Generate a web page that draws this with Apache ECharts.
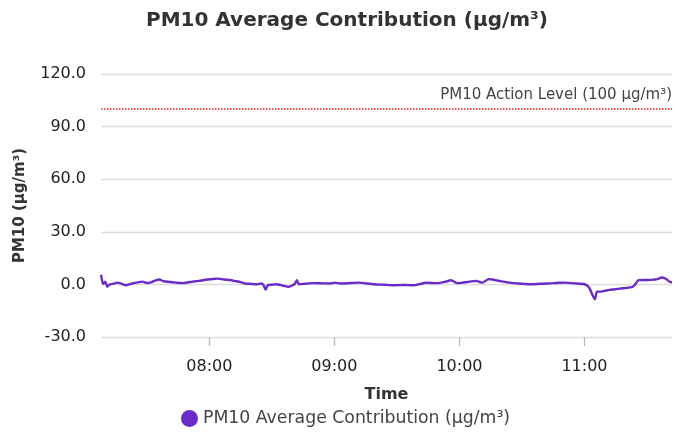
<!DOCTYPE html>
<html>
<head>
<meta charset="utf-8">
<script src="https://cdn.jsdelivr.net/npm/echarts@6/dist/echarts.min.js"></script>
<style>
html,body{margin:0;padding:0;background:#fff;}
#chart{width:679px;height:432px;}
</style>
</head>
<body>
<div id="chart"></div>
<script>
var titleText = 'PM10 Average Contribution (µg/m³)';
var seriesName = 'PM10 Average Contribution (µg/m³)';
var yAxisName = 'PM10 (µg/m³)';
var xAxisName = 'Time';
var actionLevel = 100;
var actionLabel = 'PM10 Action Level (100 µg/m³)';
var yTicks = [-30, 0, 30, 60, 90, 120];
var day = '2024-01-01 ';

var times = ['07:08','07:09','07:10','07:11','07:12','07:14','07:16','07:18','07:20','07:22','07:23','07:25','07:28','07:30','07:32','07:34','07:36','07:38','07:41','07:44','07:47','07:50','07:52','07:55','07:59','08:01','08:04','08:07','08:10','08:12','08:15','08:17','08:20','08:23','08:25','08:26','08:27','08:28','08:30','08:32','08:35','08:38','08:40','08:41','08:42','08:43','08:46','08:50','08:54','08:58','09:00','09:03','09:07','09:12','09:15','09:19','09:24','09:28','09:33','09:38','09:41','09:44','09:49','09:53','09:56','09:59','10:01','10:04','10:08','10:11','10:14','10:16','10:18','10:21','10:24','10:28','10:31','10:34','10:40','10:45','10:48','10:51','10:55','11:00','11:02','11:03','11:04','11:05','11:06','11:08','11:10','11:12','11:15','11:17','11:20','11:23','11:24','11:26','11:29','11:32','11:35','11:37','11:39','11:41','11:42'];
var values = [5.5,0.3,1.6,-1.3,-0.2,0.4,1.0,0.3,-0.5,0.2,0.5,1.0,1.6,0.8,1.2,2.2,2.8,1.8,1.4,1.0,0.7,1.2,1.6,2.0,2.8,3.0,3.3,2.8,2.5,2.0,1.3,0.5,0.3,0.1,0.5,-0.5,-3.1,-0.5,-0.2,0.1,-0.6,-1.4,-0.5,0.3,2.4,0.1,0.4,0.7,0.6,0.5,1.0,0.5,0.7,1.0,0.6,0.1,-0.2,-0.5,-0.3,-0.5,0.2,0.9,0.7,1.4,2.4,0.7,0.9,1.4,2.0,1.0,3.0,2.8,2.2,1.6,1.0,0.5,0.3,0.1,0.4,0.7,0.9,1.0,0.6,0.1,-1.5,-3.7,-6.5,-8.5,-4.1,-4.1,-3.6,-3.1,-2.8,-2.4,-2.0,-1.4,-0.5,2.4,2.5,2.6,3.0,3.9,3.2,1.4,1.2];

var data = times.map(function (t, i) { return [day + t, values[i]]; });

var font = 'DejaVu Sans';
var chart = echarts.init(document.getElementById('chart'), null, {renderer: 'canvas'});
chart.setOption({
  animation: false,
  textStyle: {fontFamily: font},
  title: {
    text: titleText,
    left: 141,
    top: 6,
    textStyle: {fontFamily: font, fontSize: 20, fontWeight: 'bold', color: '#333'}
  },
  legend: {
    bottom: 0,
    left: 176,
    icon: 'circle',
    itemWidth: 17,
    itemHeight: 17,
    itemGap: 4,
    textStyle: {fontFamily: font, fontSize: 17.3, color: '#444'},
    data: [seriesName]
  },
  grid: {left: 101, right: 7, top: 74, bottom: 95, containLabel: false},
  xAxis: {
    type: 'time',
    position: 'bottom',
    min: day + times[0],
    max: day + times[times.length - 1],
    minInterval: 3600 * 1000,
    maxInterval: 3600 * 1000,
    name: xAxisName,
    nameLocation: 'middle',
    nameGap: 50,
    nameTextStyle: {fontFamily: font, fontSize: 16, fontWeight: 'bold', color: '#333'},
    axisLine: {show: false, onZero: false},
    axisTick: {show: true, inside: false, length: 9, lineStyle: {color: '#b8b8b8', width: 1.2}},
    minorTick: {show: false},
    splitLine: {show: false},
    axisLabel: {
      fontFamily: font, fontSize: 16, color: '#222', margin: 22,
      formatter: '{HH}:{mm}',
      showMinLabel: false, showMaxLabel: false
    }
  },
  yAxis: {
    type: 'value',
    min: yTicks[0],
    max: yTicks[yTicks.length - 1],
    interval: 30,
    name: yAxisName,
    nameLocation: 'middle',
    nameGap: 73,
    nameTextStyle: {fontFamily: font, fontSize: 15, fontWeight: 'bold', color: '#333'},
    axisLine: {show: false},
    axisTick: {show: false},
    splitLine: {lineStyle: {color: '#dddddd', width: 1.3}},
    axisLabel: {
      fontFamily: font, fontSize: 16, color: '#222', margin: 15,
      formatter: function (v) { return v.toFixed(1); }
    }
  },
  series: [{
    name: seriesName,
    type: 'line',
    data: data,
    showSymbol: false,
    symbol: 'circle',
    smooth: 0.2,
    itemStyle: {color: '#6a2bcc'},
    lineStyle: {color: '#6a2bcc', width: 2.4},
    markLine: {
      silent: true,
      symbol: 'none',
      lineStyle: {color: '#ff1a1a', type: 'dotted', width: 1.5},
      label: {
        position: 'insideEndTop',
        formatter: actionLabel,
        fontFamily: font,
        fontSize: 15,
        color: '#444',
        distance: [0, 6]
      },
      emphasis: {disabled: true},
      data: [{yAxis: actionLevel}]
    }
  }]
});
</script>
</body>
</html>
